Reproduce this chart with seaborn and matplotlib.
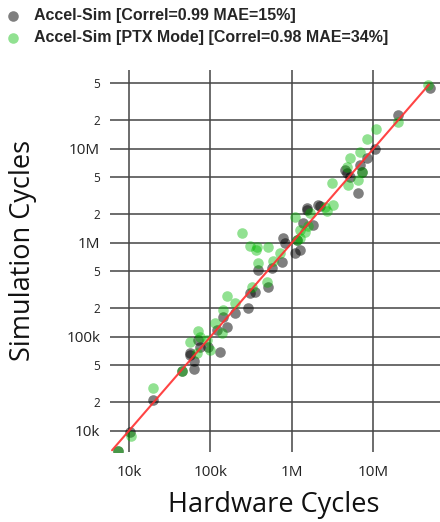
import matplotlib
matplotlib.use("Agg")
import matplotlib.pyplot as plt
import matplotlib.ticker as mticker
import seaborn as sns
import pandas as pd

# Accel-Sim (SASS) : hardware cycles vs simulated cycles
hw_accel = [7330, 10300, 19700, 44700, 62800, 62800, 56000, 74300, 93100, 131000,
            70300, 120000, 159000, 142000, 200000, 288000, 305000, 352000, 508000, 383000,
            569000, 754000, 776000, 820000, 1150000, 1090000, 1250000, 1360000, 1530000, 1810000,
            2090000, 5150000, 4730000, 6460000, 7230000, 8320000, 10400000, 20000000, 49300000, 6820000,
            1530000, 4470000, 56000, 2210000]
sim_accel = [6080, 9700, 21200, 43200, 45300, 55200, 67100, 77800, 77800, 68700,
             92200, 118000, 127000, 162000, 179000, 202000, 292000, 299000, 338000, 513000,
             538000, 624000, 1120000, 993000, 1070000, 776000, 835000, 1620000, 2340000, 1540000,
             2520000, 5000000, 5510000, 3380000, 5650000, 7960000, 9930000, 22900000, 44300000, 6710000,
             2230000, 5940000, 63800, 2450000]

# Accel-Sim in PTX mode
hw_ptx = [7330, 10600, 19700, 44700, 56000, 70300, 90600, 98600, 68300, 74300,
          114000, 138000, 142000, 159000, 200000, 323000, 493000, 383000, 585000, 713000,
          244000, 305000, 372000, 508000, 1150000, 1090000, 1250000, 1450000, 1570000, 1660000,
          2690000, 3180000, 2540000, 3100000, 4730000, 4860000, 6460000, 5150000, 6820000, 8320000,
          10700000, 7230000, 20000000, 46700000, 361000, 1250000]
sim_ptx = [6080, 8790, 28400, 43200, 87900, 115000, 92200, 72300, 67100, 99300,
           140000, 109000, 192000, 271000, 228000, 338000, 382000, 608000, 638000, 776000,
           1270000, 923000, 900000, 900000, 1070000, 1870000, 1120000, 1300000, 1510000, 2070000,
           2170000, 2520000, 2400000, 4310000, 6380000, 4110000, 4650000, 7960000, 9230000, 12700000,
           16200000, 5650000, 19200000, 47600000, 835000, 1360000]

ideal = [6200, 48000000]

label_accel = "Accel-Sim [Correl=0.99 MAE=15%]"
label_ptx = "Accel-Sim [PTX Mode] [Correl=0.98 MAE=34%]"

y_ticks = [1e4, 2e4, 5e4, 1e5, 2e5, 5e5, 1e6, 2e6, 5e6, 1e7, 2e7, 5e7]
y_labels = ["10k", "2", "5", "100k", "2", "5", "1M", "2", "5", "10M", "2", "5"]
x_ticks = [1e4, 1e5, 1e6, 1e7]
x_labels = ["10k", "100k", "1M", "10M"]

sns.set_style("white")
plt.rcParams["font.family"] = ["Open Sans", "DejaVu Sans"]

df_accel = pd.DataFrame({"hw": hw_accel, "sim": sim_accel})
df_ptx = pd.DataFrame({"hw": hw_ptx, "sim": sim_ptx})

fig = plt.figure(figsize=(4.4, 5.22), dpi=100)
ax = fig.add_axes([0.25, 0.134, 0.75, 0.732])

ax.set_xscale("log")
ax.set_yscale("log")

sns.scatterplot(data=df_accel, x="hw", y="sim", ax=ax, color="black", alpha=0.5,
                s=58, linewidth=0, label=label_accel, zorder=3)
sns.scatterplot(data=df_ptx, x="hw", y="sim", ax=ax, color=(0, 0.73, 0), alpha=0.43,
                s=58, linewidth=0, label=label_ptx, zorder=4)
ax.plot(ideal, ideal, color="#ff3030", lw=1.5, alpha=0.9, zorder=5)

ax.set_xlim(5850, 6.55e7)
ax.set_ylim(5930, 6.87e7)

ax.xaxis.set_major_locator(mticker.FixedLocator(x_ticks))
ax.xaxis.set_minor_locator(mticker.NullLocator())
ax.set_xticklabels(x_labels)
ax.yaxis.set_major_locator(mticker.FixedLocator(y_ticks))
ax.yaxis.set_minor_locator(mticker.NullLocator())
ax.set_yticklabels(y_labels)

ax.grid(True, which="major", color="#444444", lw=1.1)
ax.set_axisbelow(True)
for sp in ax.spines.values():
    sp.set_visible(False)

ax.tick_params(axis="x", length=5, width=1, color="#555555", pad=4, labelsize=11, labelcolor="#222222")
ax.tick_params(axis="y", length=5, width=1, color="#555555", pad=2, labelsize=11, labelcolor="#222222")
for lab in ax.get_yticklabels():
    if lab.get_text() in ("2", "5"):
        lab.set_fontsize(8.5)

ax.set_xlabel("")
ax.set_ylabel("")
fig.text(273.5 / 440, 1 - 505 / 522, "Hardware Cycles", ha="center", va="center", fontsize=19.5, color="#111111")
fig.text(23 / 440, 1 - 250 / 522, "Simulation Cycles", ha="center", va="center", rotation=90,
         fontsize=19.5, color="#111111")

ax.get_legend().remove()
handles, labels = ax.get_legend_handles_labels()
fig.legend(handles, labels, loc="upper left", bbox_to_anchor=(-0.007, 1.0), frameon=False,
           prop={"family": "Liberation Sans", "weight": "bold", "size": 11.5},
           handlelength=1.0, handletextpad=0.82, labelspacing=0.46,
           borderpad=0.39, borderaxespad=0.1)

fig.savefig("out.png", dpi=100)
